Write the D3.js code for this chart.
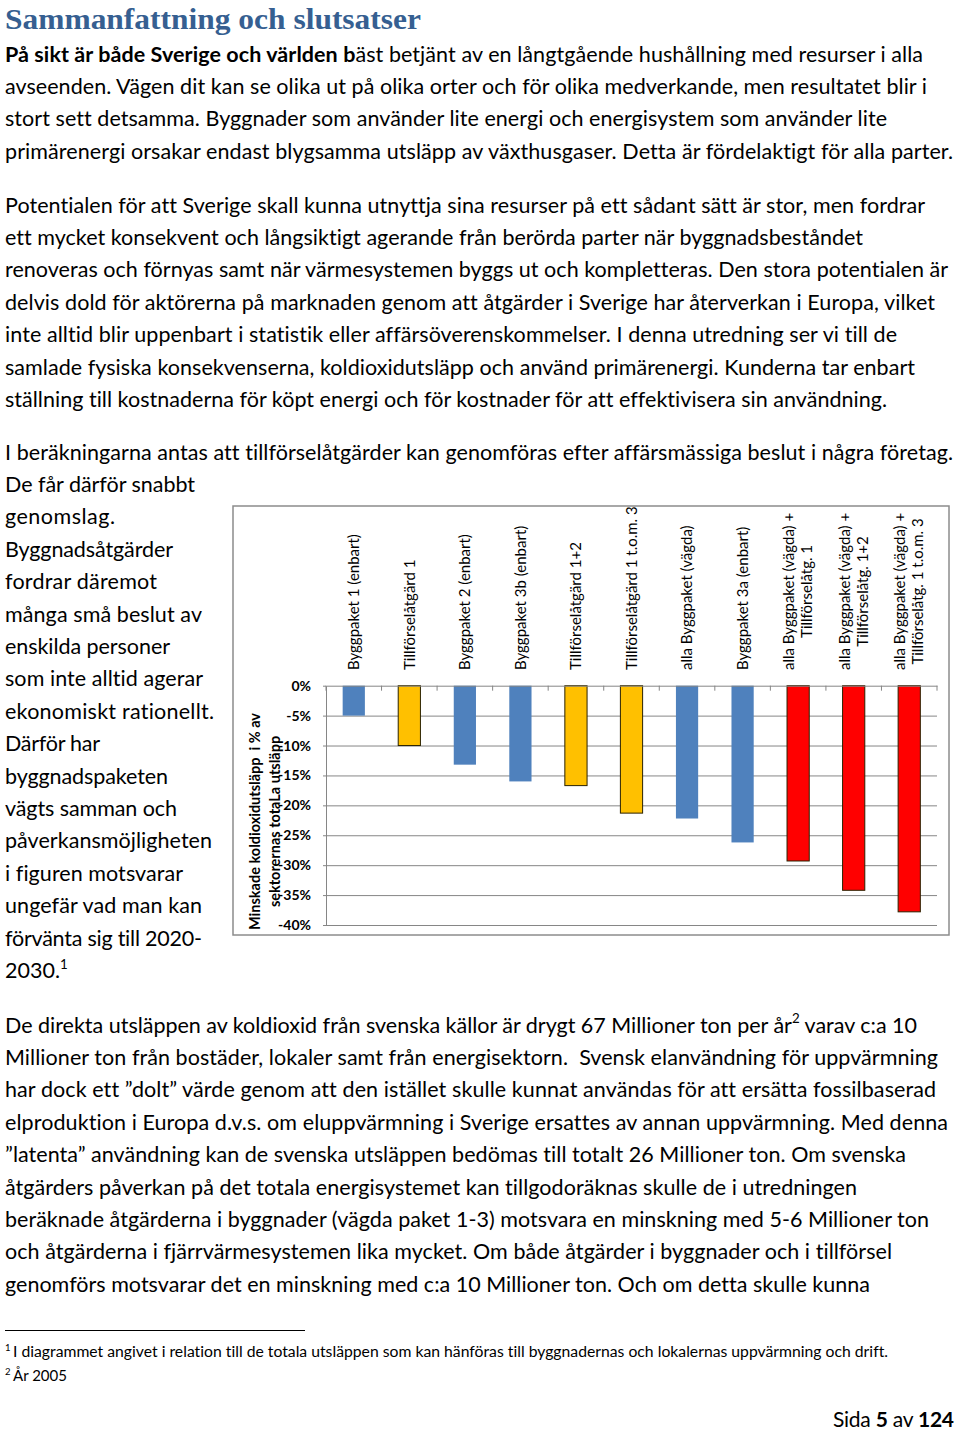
<!DOCTYPE html>
<html>
<head>
<meta charset="utf-8">
<script src="https://cdn.jsdelivr.net/npm/d3@7"></script>
<style>
  html, body { margin: 0; padding: 0; background: #fff; }
  svg text { white-space: pre; font-variant-ligatures: none; font-feature-settings: "liga" 0, "clig" 0; }
</style>
</head>
<body>
<svg id="page" width="960" height="1432"></svg>
<script>
// ---------------- chart data ----------------
const categories = [
  "Byggpaket 1 (enbart)",
  "Tillförselåtgärd 1",
  "Byggpaket 2 (enbart)",
  "Byggpaket 3b (enbart)",
  "Tillförselåtgärd 1+2",
  "Tillförselåtgärd 1 t.o.m. 3",
  "alla Byggpaket (vägda)",
  "Byggpaket 3a (enbart)",
  "alla Byggpaket (vägda) +\nTillförselåtg. 1",
  "alla Byggpaket (vägda) +\nTillförselåtg. 1+2",
  "alla Byggpaket (vägda) +\nTillförselåtg. 1 t.o.m. 3"
];
const values = [-5.0, -10.0, -13.2, -16.0, -16.7, -21.3, -22.2, -26.2, -29.3, -34.2, -37.8];
const groups = ["bygg", "till", "bygg", "bygg", "till", "till", "bygg", "bygg", "komb", "komb", "komb"];
const yTicks = [0, -5, -10, -15, -20, -25, -30, -35, -40];
const yTitle = ["Minskade koldioxidutsläpp  i % av", "sektorernas totaLa utsläpp"];

// ---------------- page text ----------------
const title = "Sammanfattning och slutsatser";
const para1 = [
  "**På sikt är både Sverige och världen b**äst betjänt av en långtgående hushållning med resurser i alla",
  "avseenden. Vägen dit kan se olika ut på olika orter och för olika medverkande, men resultatet blir i",
  "stort sett detsamma. Byggnader som använder lite energi och energisystem som använder lite",
  "primärenergi orsakar endast blygsamma utsläpp av växthusgaser. Detta är fördelaktigt för alla parter."
];
const para2 = [
  "Potentialen för att Sverige skall kunna utnyttja sina resurser på ett sådant sätt är stor, men fordrar",
  "ett mycket konsekvent och långsiktigt agerande från berörda parter när byggnadsbeståndet",
  "renoveras och förnyas samt när värmesystemen byggs ut och kompletteras. Den stora potentialen är",
  "delvis dold för aktörerna på marknaden genom att åtgärder i Sverige har återverkan i Europa, vilket",
  "inte alltid blir uppenbart i statistik eller affärsöverenskommelser. I denna utredning ser vi till de",
  "samlade fysiska konsekvenserna, koldioxidutsläpp och använd primärenergi. Kunderna tar enbart",
  "ställning till kostnaderna för köpt energi och för kostnader för att effektivisera sin användning."
];
const para3 = [
  "I beräkningarna antas att tillförselåtgärder kan genomföras efter affärsmässiga beslut i några företag.",
  "De får därför snabbt",
  "genomslag.",
  "Byggnadsåtgärder",
  "fordrar däremot",
  "många små beslut av",
  "enskilda personer",
  "som inte alltid agerar",
  "ekonomiskt rationellt.",
  "Därför har",
  "byggnadspaketen",
  "vägts samman och",
  "påverkansmöjligheten",
  "i figuren motsvarar",
  "ungefär vad man kan",
  "förvänta sig till 2020-",
  "2030.^1^"
];
const para4 = [
  "De direkta utsläppen av koldioxid från svenska källor är drygt 67 Millioner ton per år^2^ varav c:a 10",
  "Millioner ton från bostäder, lokaler samt från energisektorn.  Svensk elanvändning för uppvärmning",
  "har dock ett ”dolt” värde genom att den istället skulle kunnat användas för att ersätta fossilbaserad",
  "elproduktion i Europa d.v.s. om eluppvärmning i Sverige ersattes av annan uppvärmning. Med denna",
  "”latenta” användning kan de svenska utsläppen bedömas till totalt 26 Millioner ton. Om svenska",
  "åtgärders påverkan på det totala energisystemet kan tillgodoräknas skulle de i utredningen",
  "beräknade åtgärderna i byggnader (vägda paket 1-3) motsvara en minskning med 5-6 Millioner ton",
  "och åtgärderna i fjärrvärmesystemen lika mycket. Om både åtgärder i byggnader och i tillförsel",
  "genomförs motsvarar det en minskning med c:a 10 Millioner ton. Och om detta skulle kunna"
];
const footnotes = [
  "I diagrammet angivet i relation till de totala utsläppen som kan hänföras till byggnadernas och lokalernas uppvärmning och drift.",
  "År 2005"
];
const pageNo = "Sida **5** av **124**";

// layout (line right ends, measured from reference)
const ends1 = [923, 927, 887, 953];
const ends2 = [925, 863, 948, 935, 897, 915, 887];
const ends3 = [953, 195, 115, 173, 157, 202, 170, 203, 214, 100, 168, 177, 212, 183, 202, 202, null];
const ends4 = [917, 938, 936, 948, 906, 857, 929, 892, 870];

const svg = d3.select("#page");
const BODY_FONT = "Lato, 'Open Sans', sans-serif";
const LH = 32.4;

function richText(sel, str, fs) {
  // supports **bold** and ^sup^
  const parts = str.split(/(\*\*[^*]+\*\*|\^[^^]+\^)/).filter(s => s.length);
  let pendingDy = 0;
  parts.forEach(p => {
    let ts;
    if (p.startsWith("**")) {
      ts = sel.append("tspan").attr("font-weight", "bold").text(p.slice(2, -2));
    } else if (p.startsWith("^")) {
      ts = sel.append("tspan").attr("font-size", fs * 0.62).text(p.slice(1, -1));
      ts.attr("dy", -fs * 0.42 + pendingDy);
      pendingDy = fs * 0.42;
      return;
    } else {
      ts = sel.append("tspan").text(p);
    }
    if (pendingDy) { ts.attr("dy", pendingDy); pendingDy = 0; }
  });
}

function paragraph(lines, ends, y0, fs) {
  lines.forEach((ln, i) => {
    const t = svg.append("text")
      .attr("x", 5).attr("y", y0 + i * LH)
      .attr("font-family", BODY_FONT).attr("font-size", fs).attr("fill", "#000");
    richText(t, ln, fs);
    if (ends[i] != null) {
      t.attr("textLength", ends[i] - 5).attr("lengthAdjust", "spacing");
    }
  });
}

// title
svg.append("text")
  .attr("x", 5).attr("y", 28.5)
  .attr("font-family", "'Liberation Serif', 'DejaVu Serif', serif")
  .attr("font-weight", "bold").attr("font-size", 29)
  .attr("fill", "#365F91")
  .attr("textLength", 416).attr("lengthAdjust", "spacingAndGlyphs")
  .text(title);

paragraph(para1, ends1, 61.5, 21.5);
paragraph(para2, ends2, 212.5, 21.5);
paragraph(para3, ends3, 459.5, 21.5);
paragraph(para4, ends4, 1032.5, 21.5);

// footnotes
svg.append("line").attr("x1", 5).attr("x2", 305).attr("y1", 1330.5).attr("y2", 1330.5)
  .attr("stroke", "#000").attr("stroke-width", 1);
const fnY = [1357, 1381];
const fnEnd = [888, 67];
footnotes.forEach((f, i) => {
  svg.append("text").attr("x", 5).attr("y", fnY[i] - 6)
    .attr("font-family", BODY_FONT).attr("font-size", 9.5).text(String(i + 1));
  svg.append("text").attr("x", 13).attr("y", fnY[i])
    .attr("font-family", BODY_FONT).attr("font-size", 14.5)
    .attr("textLength", fnEnd[i] - 13).attr("lengthAdjust", "spacingAndGlyphs")
    .text(f);
});

// page number
const pn = svg.append("text").attr("x", 833).attr("y", 1427)
  .attr("font-family", BODY_FONT).attr("font-size", 21)
  .attr("textLength", 121).attr("lengthAdjust", "spacing");
richText(pn, pageNo, 21);

// ---------------- chart ----------------
const box = { x: 233, y: 506, w: 716, h: 429 };
svg.append("rect").attr("x", box.x).attr("y", box.y).attr("width", box.w).attr("height", box.h)
  .attr("fill", "#fff").attr("stroke", "#8c8c8c").attr("stroke-width", 1.5);

const plot = { left: 326, right: 937, top: 685.7, bottom: 925 };
const x = d3.scaleBand().domain(categories).range([plot.left, plot.right])
  .paddingInner(0.6).paddingOuter(0.3);
const xEdge = d3.scaleBand().domain(categories).range([plot.left, plot.right]).padding(0);
const y = d3.scaleLinear().domain([-40, 0]).range([plot.bottom, plot.top]);
const colors = { bygg: "#4F81BD", till: "#FFC000", komb: "#FF0000" };
const GRID = "#868686";

const g = svg.append("g");

// gridlines
g.append("g").attr("transform", `translate(${plot.left},0)`)
  .call(d3.axisRight(y).tickValues(yTicks.filter(d => d !== 0)).tickSize(plot.right - plot.left).tickFormat(""))
  .call(s => s.select(".domain").remove())
  .call(s => s.selectAll("line").attr("stroke", GRID).attr("stroke-width", 1));

// y axis
const yAxis = g.append("g").attr("transform", `translate(${plot.left},0)`)
  .call(d3.axisLeft(y).tickValues(yTicks).tickSize(3).tickPadding(12)
    .tickFormat(d => d + "%").tickSizeOuter(0));
yAxis.select(".domain").attr("stroke", GRID);
yAxis.selectAll("line").attr("stroke", GRID);
yAxis.selectAll("text")
  .attr("font-family", "Lato, sans-serif").attr("font-weight", "bold")
  .attr("font-size", 14).attr("fill", "#000");

// bars
g.selectAll("rect.bar").data(categories).join("rect")
  .attr("class", "bar")
  .attr("x", d => x(d))
  .attr("width", x.bandwidth())
  .attr("y", y(0))
  .attr("height", (d, i) => y(values[i]) - y(0))
  .attr("fill", (d, i) => colors[groups[i]])
  .attr("stroke", (d, i) => groups[i] === "bygg" ? "none" : "#2b2200")
  .attr("stroke-width", 1);

// category axis line at 0 with boundary ticks
const xAxis = g.append("g").attr("transform", `translate(0,${y(0)})`)
  .call(d3.axisBottom(xEdge).tickValues([]).tickSizeOuter(0));
xAxis.select(".domain").attr("stroke", GRID);
const edges = categories.map(c => xEdge(c)).concat([plot.right]);
xAxis.selectAll("line.edge").data(edges).join("line")
  .attr("class", "edge")
  .attr("x1", d => d).attr("x2", d => d).attr("y1", 0).attr("y2", 5)
  .attr("stroke", GRID);

// category labels (rotated)
const labelBottom = 670;
categories.forEach(c => {
  const lines = c.split("\n");
  const cx = x(c) + x.bandwidth() / 2;
  const temp = lines.map(l => {
    const t = g.append("text").attr("font-family", "Lato, sans-serif").attr("font-size", 15).text(l);
    const w = t.node().getComputedTextLength();
    t.remove();
    return w;
  });
  const maxLen = d3.max(temp);
  const cy = labelBottom - maxLen / 2;
  lines.forEach((l, i) => {
    const off = (i - (lines.length - 1) / 2) * 18;
    g.append("text")
      .attr("transform", `translate(${cx + off},${cy}) rotate(-90)`)
      .attr("text-anchor", "middle").attr("dy", "0.35em")
      .attr("font-family", "Lato, sans-serif").attr("font-size", 15).attr("fill", "#000")
      .text(l);
  });
});

// y-axis title
const titleCy = 821.5;
yTitle.forEach((t, i) => {
  g.append("text")
    .attr("transform", `translate(${255 + i * 20},${titleCy}) rotate(-90)`)
    .attr("text-anchor", "middle").attr("dy", "0.35em")
    .attr("font-family", "Lato, sans-serif").attr("font-weight", "bold")
    .attr("font-size", 14.5).attr("fill", "#000")
    .text(t);
});
</script>
</body>
</html>
